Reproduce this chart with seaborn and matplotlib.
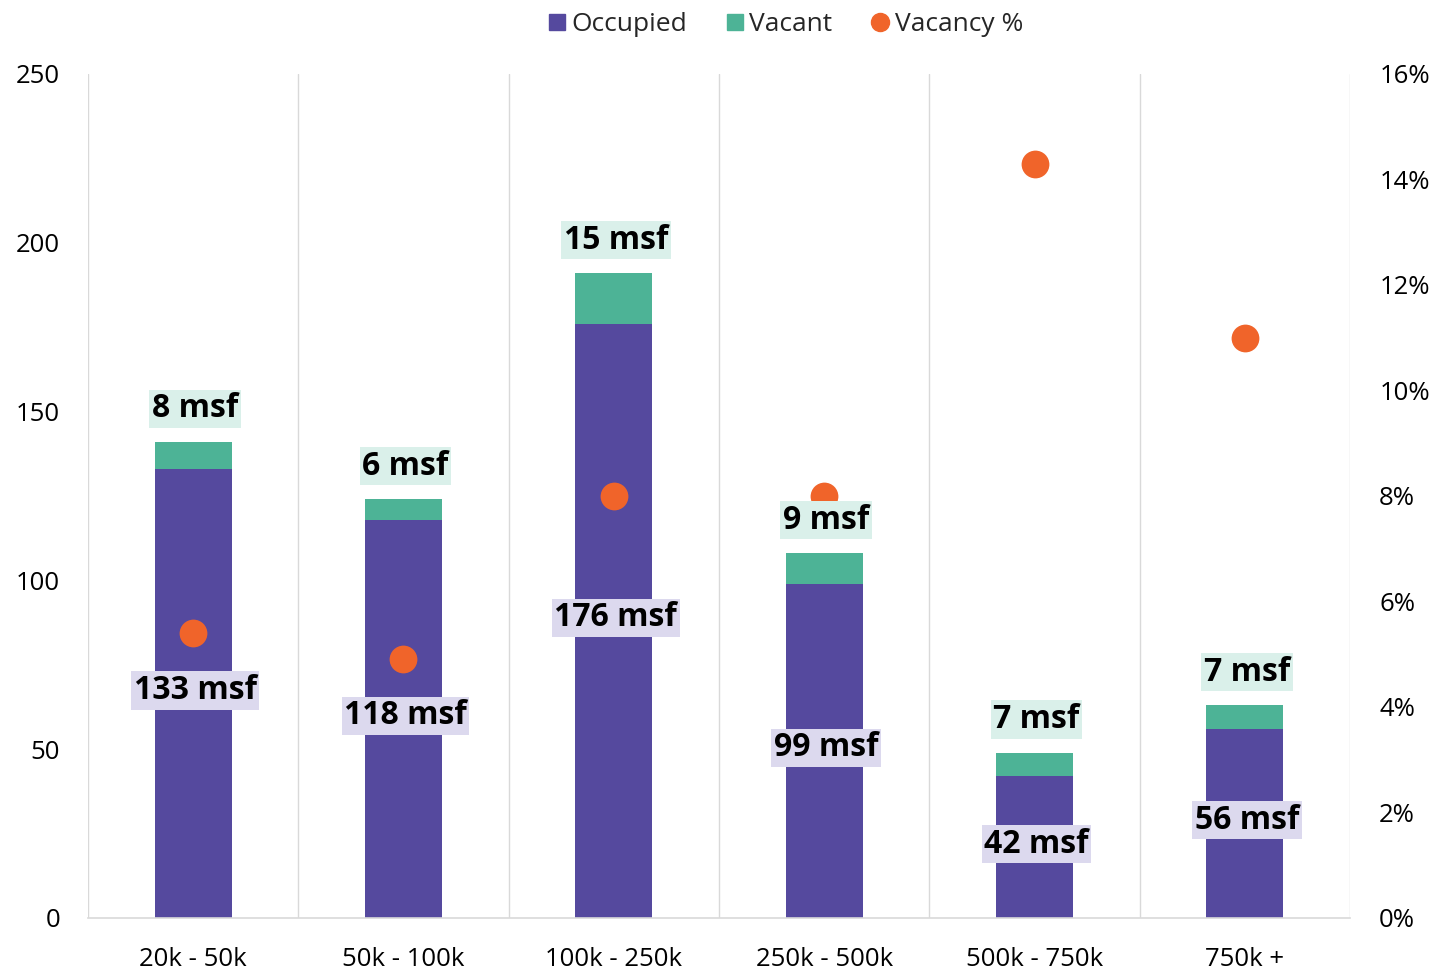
import matplotlib
matplotlib.use("Agg")
import matplotlib.pyplot as plt
from matplotlib.lines import Line2D
from matplotlib.ticker import FuncFormatter
import seaborn as sns
import pandas as pd

categories = ["20k - 50k", "50k - 100k", "100k - 250k", "250k - 500k", "500k - 750k", "750k +"]
occupied = [133, 118, 176, 99, 42, 56]
vacant = [8, 6, 15, 9, 7, 7]
vacancy_pct = [5.4, 4.9, 8.0, 8.0, 14.3, 11.0]

PURPLE = "#55499E"
GREEN = "#4DB396"
ORANGE = "#F0642A"
GREEN_BG = "#DAF0EA"
PURPLE_BG = "#DCD9EE"
GRID = "#D9D9D9"

sns.set_theme(style="white")
plt.rcParams["font.family"] = ["Open Sans", "DejaVu Sans"]

df = pd.DataFrame({
    "cat": categories,
    "occupied": occupied,
    "vacant": vacant,
    "total": [o + v for o, v in zip(occupied, vacant)],
    "pct": vacancy_pct,
})

fig = plt.figure(figsize=(14.35, 9.72), dpi=100)
ax = fig.add_axes([0.0613, 0.0556, 0.8795, 0.8683])

sns.barplot(data=df, x="cat", y="total", color=GREEN, width=0.367, ax=ax,
            saturation=1, edgecolor="none")
sns.barplot(data=df, x="cat", y="occupied", color=PURPLE, width=0.367, ax=ax,
            saturation=1, edgecolor="none")

ax.set_xlim(-0.5, len(categories) - 0.5)
ax.set_ylim(0, 250)
ax.set_yticks([0, 50, 100, 150, 200, 250])
ax.set_xlabel("")
ax.set_ylabel("")
for s in ["top", "left", "right"]:
    ax.spines[s].set_visible(False)
ax.spines["bottom"].set_color(GRID)
ax.spines["bottom"].set_linewidth(1.2)
for xv in [i - 0.5 for i in range(len(categories) + 1)]:
    ax.axvline(xv, color=GRID, lw=1.0, zorder=0)
ax.tick_params(axis="both", length=0, labelsize=18.5, colors="#000000")
ax.tick_params(axis="y", pad=20)
ax.tick_params(axis="x", pad=21)

ax2 = ax.twinx()
sns.stripplot(data=df, x="cat", y="pct", color=ORANGE, jitter=False, size=20,
              ax=ax2, linewidth=0, zorder=5)
ax2.set_xlim(-0.5, len(categories) - 0.5)
ax2.set_ylim(0, 16)
ax2.set_yticks([0, 2, 4, 6, 8, 10, 12, 14, 16])
ax2.yaxis.set_major_formatter(FuncFormatter(lambda v, p: f"{v:.0f}%"))
ax2.set_ylabel("")
for s in ["top", "left", "right", "bottom"]:
    ax2.spines[s].set_visible(False)
ax2.tick_params(axis="y", length=0, labelsize=18.5, pad=21, colors="#000000")
ax2.grid(False)
ax.grid(False)

for i, (o, v) in enumerate(zip(occupied, vacant)):
    ax2.annotate(f"{v} msf", xy=(i, o + v), xycoords=ax.transData,
                 xytext=(2, 33), textcoords="offset pixels",
                 ha="center", va="center", fontsize=23, fontweight="bold",
                 color="black", zorder=10,
                 bbox=dict(boxstyle="square,pad=0.08", fc=GREEN_BG, ec="none"))
    ax2.annotate(f"{o} msf", xy=(i, o / 2), xycoords=ax.transData,
                 xytext=(2, 3), textcoords="offset pixels",
                 ha="center", va="center", fontsize=23, fontweight="bold",
                 color="black", zorder=10,
                 bbox=dict(boxstyle="square,pad=0.08", fc=PURPLE_BG, ec="none"))

handles = [
    Line2D([], [], marker="s", color=PURPLE, linestyle="none", markersize=12),
    Line2D([], [], marker="s", color=GREEN, linestyle="none", markersize=12),
    Line2D([], [], marker="o", color=ORANGE, linestyle="none", markersize=13),
]
fig.legend(handles, ["Occupied", "Vacant", "Vacancy %"], loc="upper center",
           bbox_to_anchor=(0.546, 1.012), ncol=3, frameon=False, fontsize=19,
           handletextpad=0.05, columnspacing=1.3, handlelength=1.0)

fig.savefig("out.png", dpi=100)
